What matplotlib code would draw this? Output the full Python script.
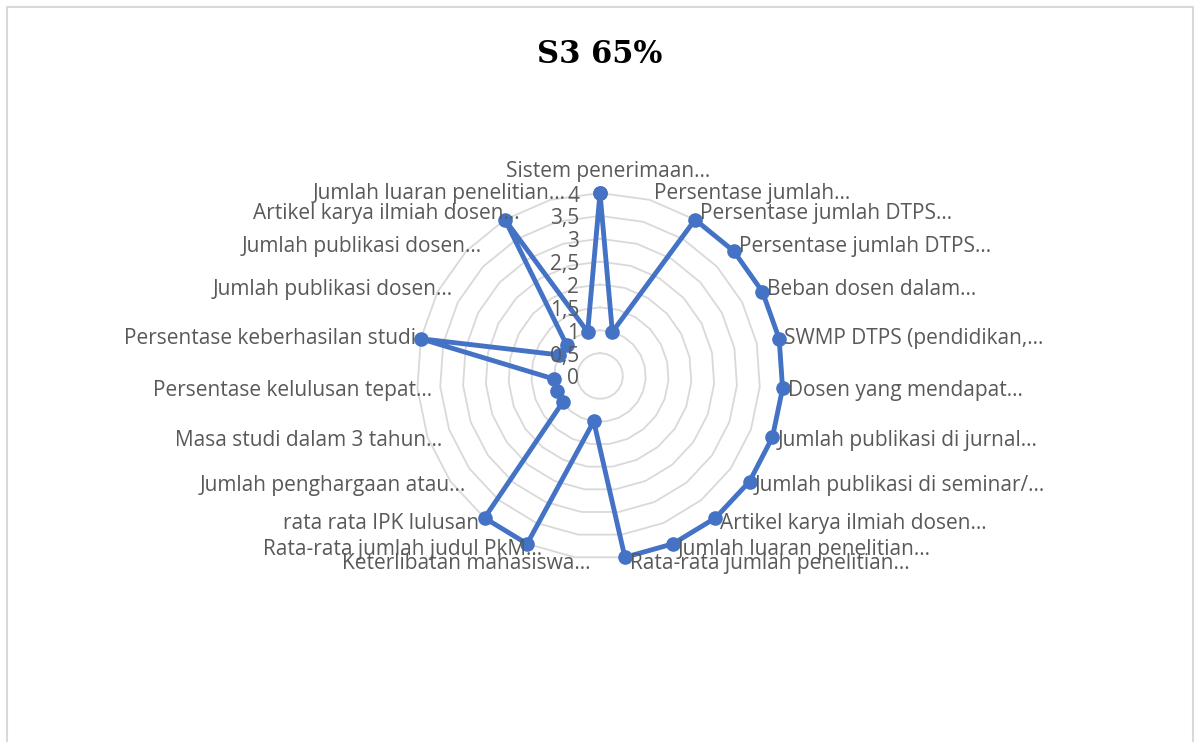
import matplotlib
matplotlib.use('Agg')
import matplotlib.pyplot as plt
from matplotlib.patches import Rectangle
import numpy as np

title = 'S3 65%'
categories = [
    'Sistem penerimaan…',
    'Persentase jumlah…',
    'Persentase jumlah DTPS…',
    'Persentase jumlah DTPS…',
    'Beban dosen dalam…',
    'SWMP DTPS (pendidikan,…',
    'Dosen yang mendapat…',
    'Jumlah publikasi di jurnal…',
    'Jumlah publikasi di seminar/…',
    'Artikel karya ilmiah dosen…',
    'Jumlah luaran penelitian…',
    'Rata-rata jumlah penelitian…',
    'Keterlibatan mahasiswa…',
    'Rata-rata jumlah judul PkM…',
    'rata rata IPK lulusan',
    'Jumlah penghargaan atau…',
    'Masa studi dalam 3 tahun…',
    'Persentase kelulusan tepat…',
    'Persentase keberhasilan studi',
    'Jumlah publikasi dosen…',
    'Jumlah publikasi dosen…',
    'Artikel karya ilmiah dosen…',
    'Jumlah luaran penelitian…',
]
values = [4, 1, 4, 4, 4, 4, 4, 4, 4, 4, 4, 4, 1, 4, 4, 1, 1, 1, 4, 1, 1, 4, 1]
tick_values = [0, 0.5, 1, 1.5, 2, 2.5, 3, 3.5, 4]
tick_labels = ['0', '0,5', '1', '1,5', '2', '2,5', '3', '3,5', '4']

LABEL_FONT = 'Open Sans'
LABEL_SIZE = 15
GRAY = '#595959'

W, H = 1200, 742
fig = plt.figure(figsize=(W / 100, H / 100), dpi=100)
fig.patch.set_facecolor('white')

# outer chart border
fig.patches.append(Rectangle((7 / W, -0.02), (1193 - 7) / W, 1 - 7 / H + 0.02,
                             transform=fig.transFigure, fill=False,
                             edgecolor='#d9d9d9', linewidth=1.5))

cx, cy, R = 600, 376, 183
ax = fig.add_axes([(cx - R) / W, 1 - (cy + R) / H, 2 * R / W, 2 * R / H],
                  projection='polar')
ax.set_theta_zero_location('N')
ax.set_theta_direction(-1)
ax.set_ylim(0, tick_values[-1])
ax.grid(False)
ax.set_xticks([])
ax.set_yticks([])
ax.spines['polar'].set_visible(False)
ax.patch.set_alpha(0)

N = len(categories)
angles = np.arange(N) * 2 * np.pi / N
closed_angles = np.append(angles, angles[0])

# polygonal gridlines
for lv in tick_values[1:]:
    ax.plot(closed_angles, [lv] * (N + 1), color='#d9d9d9', lw=1.3, zorder=1,
            clip_on=False)

# data series
ax.plot(closed_angles, np.append(values, values[0]), color='#4472C4', lw=3.5,
        marker='o', markersize=9.5, zorder=3, clip_on=False)

# value-axis labels
for v, t in zip(tick_values, tick_labels):
    ax.annotate(t, xy=(0, v), xytext=(-21, -3), textcoords='offset pixels',
                ha='right', va='center', fontsize=LABEL_SIZE, color=GRAY,
                family=LABEL_FONT, annotation_clip=False, zorder=5)

# category labels
rmax = tick_values[-1]
for ang, lab in zip(angles, categories):
    s, c = np.sin(ang), np.cos(ang)
    ell = lab.endswith('…')
    dy = -2 + (9 * c if c > 0 else 4 * c)
    if abs(s) < 0.05:
        ha = 'center'
        dx = 8 if ell else 0
        if c > 0:
            va, dy = 'bottom', 11
        else:
            va, dy = 'top', -10
    elif s > 0:
        ha, va, dx = 'left', 'center', 5
    else:
        ha, va = 'right', 'center'
        dx = 15 if ell else -5
    ax.annotate(lab, xy=(ang, rmax), xytext=(dx, dy), textcoords='offset pixels',
                ha=ha, va=va, fontsize=LABEL_SIZE, color=GRAY,
                family=LABEL_FONT, annotation_clip=False, zorder=5)

fig.text(0.5, 1 - 63 / H, title, ha='center', va='baseline',
         fontsize=22, fontweight='bold', family='DejaVu Serif', color='black')

fig.savefig('out.png', dpi=100, facecolor='white')
